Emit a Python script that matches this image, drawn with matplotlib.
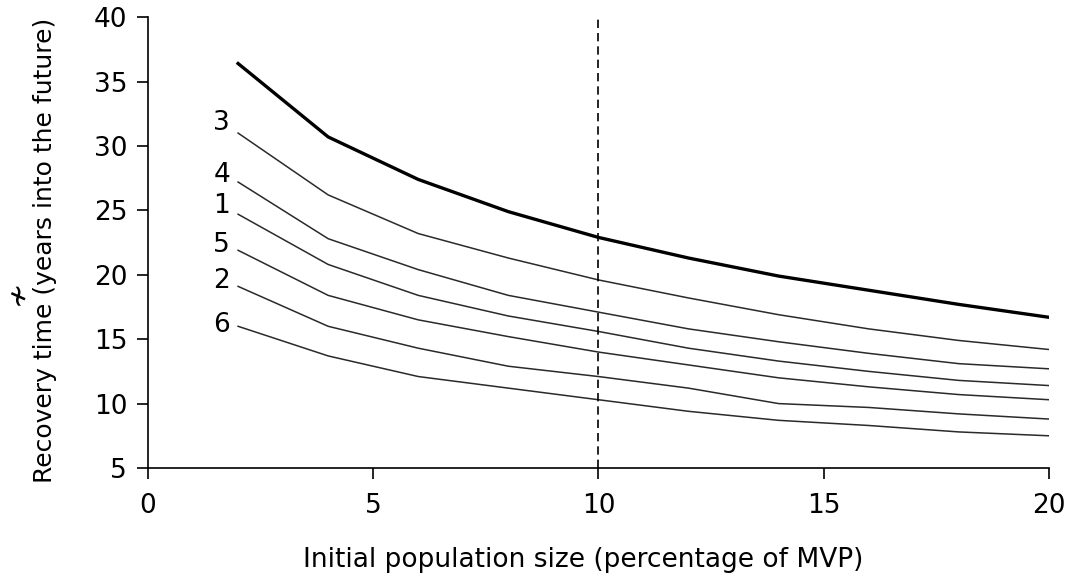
import matplotlib
matplotlib.use("Agg")
import matplotlib.pyplot as plt

plt.rcParams['font.family'] = ['DejaVu Sans']

# initial population size (% of MVP)
pop_size = [2, 4, 6, 8, 10, 12, 14, 16, 18, 20]

# thick upper curve
recovery_main = [36.4, 30.7, 27.4, 24.9, 22.9, 21.3, 19.9, 18.8, 17.7, 16.7]

# numbered scenario curves
scenario_names = ['3', '4', '1', '5', '2', '6']
scenario_values = {
    '3': [31.0, 26.2, 23.2, 21.3, 19.6, 18.2, 16.9, 15.8, 14.9, 14.2],
    '4': [27.2, 22.8, 20.4, 18.4, 17.1, 15.8, 14.8, 13.9, 13.1, 12.7],
    '1': [24.7, 20.8, 18.4, 16.8, 15.6, 14.3, 13.3, 12.5, 11.8, 11.4],
    '5': [21.9, 18.4, 16.5, 15.2, 14.0, 13.0, 12.0, 11.3, 10.7, 10.3],
    '2': [19.1, 16.0, 14.3, 12.9, 12.1, 11.2, 10.0, 9.7, 9.2, 8.8],
    '6': [16.0, 13.7, 12.1, 11.2, 10.3, 9.4, 8.7, 8.3, 7.8, 7.5],
}
# y positions of the curve numbers at the left end
label_y = [31.8, 27.75, 25.3, 22.3, 19.5, 16.1]

threshold = 10

FS = 19

fig = plt.figure(figsize=(10.67, 5.81), dpi=100)
ax = fig.add_axes([0.1387, 0.1945, 0.8443, 0.776])

for name in scenario_names:
    ax.plot(pop_size, scenario_values[name], color='#2a2a2a', lw=1.1)
ax.plot(pop_size, recovery_main, color='black', lw=2.4)

for name, ly in zip(scenario_names, label_y):
    ax.text(1.82, ly, name, ha='right', va='center', fontsize=FS)

ax.axvline(threshold, color='black', lw=1.2, dashes=(5, 3))

ax.set_xlim(0, 20)
ax.set_ylim(5, 40)
ax.set_xticks([0, 5, 10, 15, 20])
ax.set_yticks([5, 10, 15, 20, 25, 30, 35, 40])
ax.tick_params(direction='out', length=8, width=1.2, labelsize=FS)
ax.tick_params(axis='x', pad=10)
ax.tick_params(axis='y', pad=7)
for side in ['top', 'right']:
    ax.spines[side].set_visible(False)
for side in ['left', 'bottom']:
    ax.spines[side].set_linewidth(1.2)

ax.set_xlabel('Initial population size (percentage of MVP)', fontsize=FS)
ax.xaxis.set_label_coords(0.483, -0.175)
fig.text(0.042, 1 - 250 / 581, 'Recovery time (years into the future)',
         rotation=90, fontsize=18, ha='center', va='center')
fig.text(0.016, 0.497, '\u2241', rotation=90, fontsize=22,
         ha='center', va='center')

fig.savefig('out.png', dpi=100)
